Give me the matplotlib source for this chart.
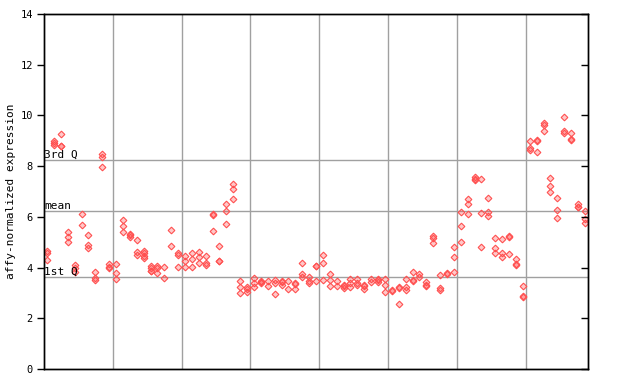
import numpy as np
import matplotlib
matplotlib.use("Agg")
import matplotlib.pyplot as plt

# expression values, one inner list per sample column (10 columns per block)
block1 = [[4.64, 4.56, 4.30], [9.0, 8.9, 8.85], [9.25, 8.8, 8.78], [5.39, 5.19, 5.0],
          [4.1, 4.0, 3.84], [6.1, 5.67], [5.27, 4.88, 4.78], [3.81, 3.6, 3.5],
          [8.47, 8.37, 7.95], [4.13, 4.03, 4.0]]
block2 = [[4.13, 3.77, 3.54], [5.88, 5.64, 5.39], [5.31, 5.27, 5.19], [5.07, 4.6, 4.5],
          [4.65, 4.56, 4.46, 4.39], [4.07, 3.97, 3.88, 3.86], [4.07, 3.97, 3.77],
          [4.03, 3.57], [5.48, 4.85], [4.56, 4.5, 4.03]]
block3 = [[4.46, 4.27, 4.03], [4.56, 4.32, 4.01], [4.63, 4.40, 4.19], [4.47, 4.17, 4.09],
          [6.1, 6.06, 5.44], [4.84, 4.27, 4.24], [6.51, 6.22, 5.72], [7.29, 7.08, 6.69],
          [3.46, 3.22, 2.98], [3.22, 3.14, 3.05]]
block4 = [[3.58, 3.38, 3.22], [3.47, 3.44, 3.4], [3.47, 3.29], [3.51, 3.40, 2.97],
          [3.47, 3.44, 3.31], [3.46, 3.14], [3.38, 3.35, 3.17], [4.2, 3.73, 3.64],
          [3.61, 3.48, 3.38], [4.08, 4.05, 3.46]]
block5 = [[4.48, 4.2, 3.51], [3.75, 3.5, 3.26], [3.47, 3.26], [3.32, 3.28, 3.19],
          [3.53, 3.38, 3.22], [3.53, 3.38, 3.32], [3.32, 3.28, 3.16], [3.53, 3.45],
          [3.53, 3.5, 3.45], [3.53, 3.3, 3.02]]
block6 = [[3.11, 3.07], [3.23, 3.2, 2.55], [3.53, 3.22, 3.11], [3.81, 3.5, 3.47],
          [3.75, 3.61], [3.44, 3.32, 3.29], [5.24, 5.15, 4.96], [3.69, 3.18, 3.10],
          [3.79, 3.76], [4.8, 4.4, 3.81]]
block7 = [[6.18, 5.63, 5.0], [6.70, 6.49, 6.1], [7.56, 7.48, 7.45], [7.48, 6.14, 4.8],
          [6.73, 6.18, 6.02], [5.15, 4.76, 4.56], [5.11, 4.56, 4.43], [5.26, 5.22, 4.53],
          [4.32, 4.14, 4.1], [3.27, 2.88, 2.85]]
block8 = [[9.0, 8.7, 8.64], [9.03, 8.98, 8.57], [9.69, 9.61, 9.37], [7.52, 7.2, 6.97],
          [6.73, 6.26, 5.94], [9.92, 9.4, 9.29], [9.29, 9.07, 9.04], [6.49, 6.4, 6.37],
          [6.23, 5.9, 5.75]]

q1_value = 3.62
mean_value = 6.22
q3_value = 8.23
y_ticks = [0, 2, 4, 6, 8, 10, 12, 14]

columns = block1 + block2 + block3 + block4 + block5 + block6 + block7 + block8

mono = "DejaVu Sans Mono"
fig = plt.figure(figsize=(6.4, 3.84), dpi=100)
ax = fig.add_axes([44 / 640, 1 - 369 / 384, (588 - 44) / 640, (369 - 14) / 384])

n = len(columns)
ax.set_xlim(-0.45, n - 0.55)
ax.set_ylim(0, 14)

# vertical separators between blocks
for xv in np.arange(9.5, n - 1, 10):
    ax.axvline(xv, color="#a0a0a0", lw=1.0, zorder=1)

# quartile / mean lines
for val, lab in [(q3_value, "3rd Q"), (mean_value, "mean"), (q1_value, "1st Q")]:
    ax.axhline(val, color="#a0a0a0", lw=1.0, zorder=1)
    ax.text(-0.45, val + 0.02, lab, fontsize=8, family=mono,
            ha="left", va="bottom", zorder=3)

for i, vals in enumerate(columns):
    ax.plot([i] * len(vals), vals, linestyle="none", marker="D", markersize=3.4,
            markerfacecolor=(1, 0.3, 0.3, 0.3), markeredgecolor="#ff5050",
            markeredgewidth=0.8, zorder=2)

ax.set_xticks([])
ax.set_yticks(y_ticks)
ax.set_yticklabels([str(t) for t in y_ticks], family=mono, fontsize=7.5)
ax.tick_params(axis="y", direction="out", length=5, width=1, pad=3)
ax.set_ylabel("affy-normalized expression", family=mono, fontsize=8, labelpad=3)

ax_r = ax.twinx()
ax_r.set_ylim(0, 14)
ax_r.set_yticks(y_ticks)
ax_r.tick_params(axis="y", direction="in", length=5, width=1, labelright=False)

for a in (ax, ax_r):
    for sp in a.spines.values():
        sp.set_color("black")
        sp.set_linewidth(1.0)

fig.savefig("out.png", dpi=100, facecolor="white")
